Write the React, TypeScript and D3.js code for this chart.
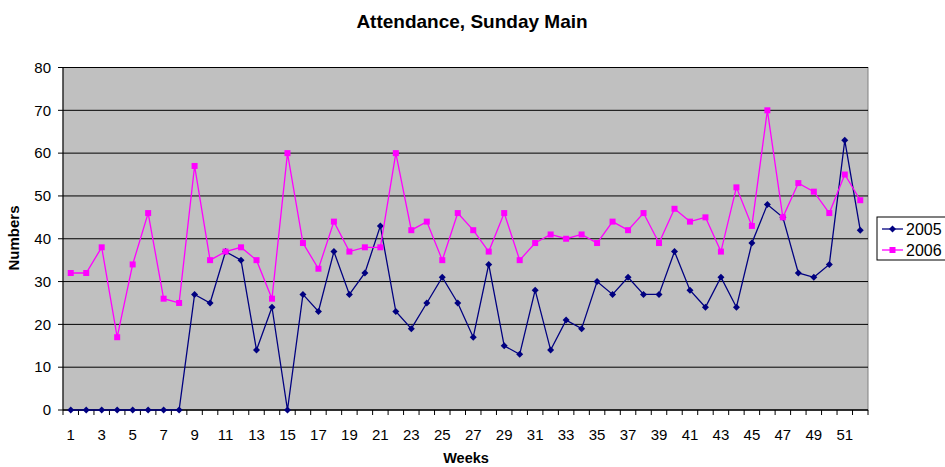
import React from 'react';
import * as d3 from 'd3';

const weeks = d3.range(1, 53);
const attendance2005 = [
  0, 0, 0, 0, 0, 0, 0, 0, 27, 25, 37, 35, 14, 24, 0, 27, 23, 37, 27, 32, 43, 23, 19, 25, 31, 25,
  17, 34, 15, 13, 28, 14, 21, 19, 30, 27, 31, 27, 27, 37, 28, 24, 31, 24, 39, 48, 45, 32, 31, 34, 63, 42,
];
const attendance2006 = [
  32, 32, 38, 17, 34, 46, 26, 25, 57, 35, 37, 38, 35, 26, 60, 39, 33, 44, 37, 38, 38, 60, 42, 44, 35, 46,
  42, 37, 46, 35, 39, 41, 40, 41, 39, 44, 42, 46, 39, 47, 44, 45, 37, 52, 43, 70, 45, 53, 51, 46, 55, 49,
];
const yTicks = [0, 10, 20, 30, 40, 50, 60, 70, 80];

const series = [
  { name: '2005', values: attendance2005, color: '#000080', marker: 'diamond' },
  { name: '2006', values: attendance2006, color: '#FF00FF', marker: 'square' },
];

const W = 945;
const H = 467;
const margin = { left: 63, right: 868, top: 67.5, bottom: 410 };
const font = 'Liberation Sans, Arial, sans-serif';

const App = () => {
  const x = d3.scaleBand<number>().domain(weeks).range([margin.left, margin.right]).padding(0);
  const y = d3.scaleLinear().domain([0, 80]).range([margin.bottom, margin.top]);
  const cx = (w: number) => (x(w) as number) + x.bandwidth() / 2;

  const line = d3
    .line<number>()
    .x((_, i) => cx(weeks[i]))
    .y((d) => y(d));

  const marker = (kind: string, color: string, px: number, py: number, key: any) =>
    kind === 'diamond' ? (
      <path key={key} d={`M${px},${py - 3.5}L${px + 3.5},${py}L${px},${py + 3.5}L${px - 3.5},${py}Z`} fill={color} />
    ) : (
      <rect key={key} x={px - 3} y={py - 3} width={6} height={6} fill={color} />
    );

  return (
    <svg width={W} height={H} style={{ position: 'absolute', left: 0, top: 0, background: '#fff' }} fontFamily={font}>
      <text x={472} y={28} textAnchor="middle" fontSize={19} fontWeight="bold">
        Attendance, Sunday Main
      </text>

      {/* plot area */}
      <rect x={margin.left} y={margin.top} width={margin.right - margin.left} height={margin.bottom - margin.top} fill="#C0C0C0" stroke="#808080" />

      {yTicks.map((t) => (
        <g key={t}>
          <line x1={margin.left} x2={margin.right} y1={y(t)} y2={y(t)} stroke="#000" strokeWidth={1} />
          <line x1={margin.left - 5} x2={margin.left} y1={y(t)} y2={y(t)} stroke="#000" />
          <text x={51} y={y(t)} dy="0.35em" textAnchor="end" fontSize={15}>
            {t}
          </text>
        </g>
      ))}

      <line x1={margin.left} x2={margin.left} y1={margin.top} y2={margin.bottom} stroke="#000" />
      <line x1={margin.left} x2={margin.right} y1={margin.bottom} y2={margin.bottom} stroke="#000" />

      {weeks.map((w) => (
        <line key={w} x1={x(w)} x2={x(w)} y1={margin.bottom} y2={margin.bottom + 5} stroke="#000" />
      ))}
      <line x1={margin.right} x2={margin.right} y1={margin.bottom} y2={margin.bottom + 5} stroke="#000" />
      {weeks
        .filter((w) => w % 2 === 1)
        .map((w) => (
          <text key={w} x={cx(w)} y={440} textAnchor="middle" fontSize={15}>
            {w}
          </text>
        ))}

      <text x={466} y={463} textAnchor="middle" fontSize={14.5} fontWeight="bold">
        Weeks
      </text>
      <text transform="translate(19,238) rotate(-90)" textAnchor="middle" fontSize={15} fontWeight="bold">
        Numbers
      </text>

      {series.map((s) => (
        <g key={s.name}>
          <path d={line(s.values) as string} fill="none" stroke={s.color} strokeWidth={1.3} />
          {s.values.map((v, i) => marker(s.marker, s.color, cx(weeks[i]), y(v), i))}
        </g>
      ))}

      {/* legend */}
      <rect x={877} y={217} width={72} height={43} fill="#fff" stroke="#000" />
      {series.map((s, i) => {
        const ly = 229 + i * 21;
        return (
          <g key={s.name}>
            <line x1={882} x2={903} y1={ly} y2={ly} stroke={s.color} strokeWidth={1.3} />
            {marker(s.marker, s.color, 892.5, ly, 'm')}
            <text x={906} y={ly} dy="0.35em" fontSize={16}>
              {s.name}
            </text>
          </g>
        );
      })}
    </svg>
  );
};

export default App;
